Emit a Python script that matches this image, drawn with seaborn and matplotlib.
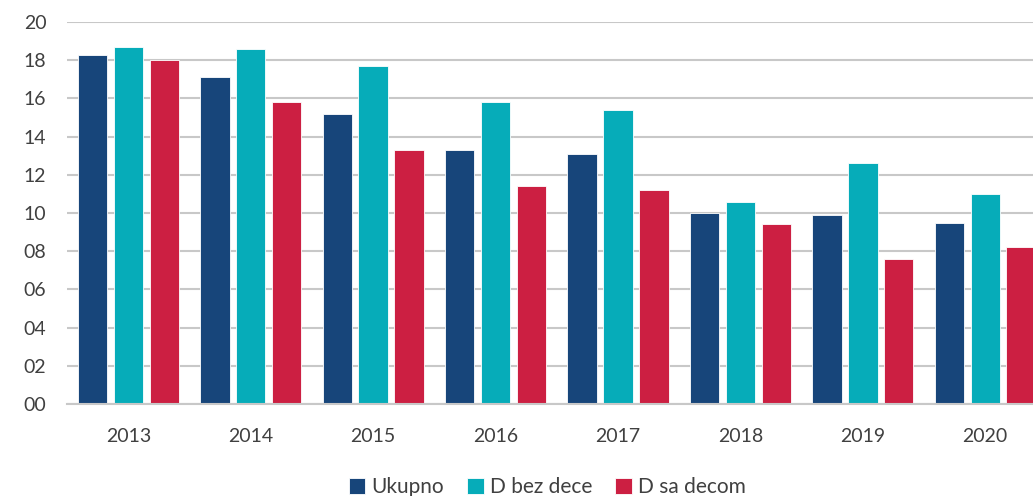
import pandas as pd
import matplotlib.pyplot as plt
import seaborn as sns
from matplotlib.ticker import FuncFormatter

# Data
years = ["2013", "2014", "2015", "2016", "2017", "2018", "2019", "2020"]
ukupno = [18.3, 17.1, 15.2, 13.3, 13.1, 10.0, 9.9, 9.5]
bez_dece = [18.7, 18.6, 17.7, 15.8, 15.4, 10.6, 12.6, 11.0]
sa_decom = [18.0, 15.8, 13.3, 11.4, 11.2, 9.4, 7.6, 8.2]

series = ["Ukupno", "D bez dece", "D sa decom"]
colors = ["#17457A", "#06ACB9", "#CC1F42"]

df = pd.DataFrame({
    "year": years * 3,
    "value": ukupno + bez_dece + sa_decom,
    "series": [s for s in series for _ in years],
})

sns.set_style("white")
plt.rcParams["font.family"] = ["Lato", "DejaVu Sans"]

fig = plt.figure(figsize=(10.33, 4.96), dpi=100)
ax = fig.add_axes([0.065, 0.1855, 0.935, 0.770])

sns.barplot(data=df, x="year", y="value", hue="series", hue_order=series,
            palette=colors, width=0.88, gap=0.18, saturation=1,
            edgecolor="white", linewidth=0.6, ax=ax)

ax.set_ylim(0, 20)
ax.set_yticks(range(0, 21, 2))
ax.yaxis.set_major_formatter(FuncFormatter(lambda v, p: f"{int(v):02d}"))
ax.set_xlim(-0.5, 7.39)
ax.set_xlabel("")
ax.set_ylabel("")

ax.grid(axis="y", color="#c8c8c8", linewidth=1.5)
ax.set_axisbelow(True)
for side in ["top", "right", "left"]:
    ax.spines[side].set_visible(False)
ax.spines["bottom"].set_color("#c8c8c8")
ax.spines["bottom"].set_linewidth(1.5)

ax.tick_params(axis="both", length=0, labelsize=14, labelcolor="#404040")
ax.tick_params(axis="x", pad=17)
ax.tick_params(axis="y", pad=15)

handles, labels = ax.get_legend_handles_labels()
ax.get_legend().remove()
fig.legend(handles, labels, loc="center", bbox_to_anchor=(0.53, 0.018),
           ncol=3, frameon=False, fontsize=15, handlelength=0.8,
           handleheight=0.8, handletextpad=0.3, columnspacing=1.1,
           labelcolor="#404040")

fig.savefig("out.png", dpi=100)
